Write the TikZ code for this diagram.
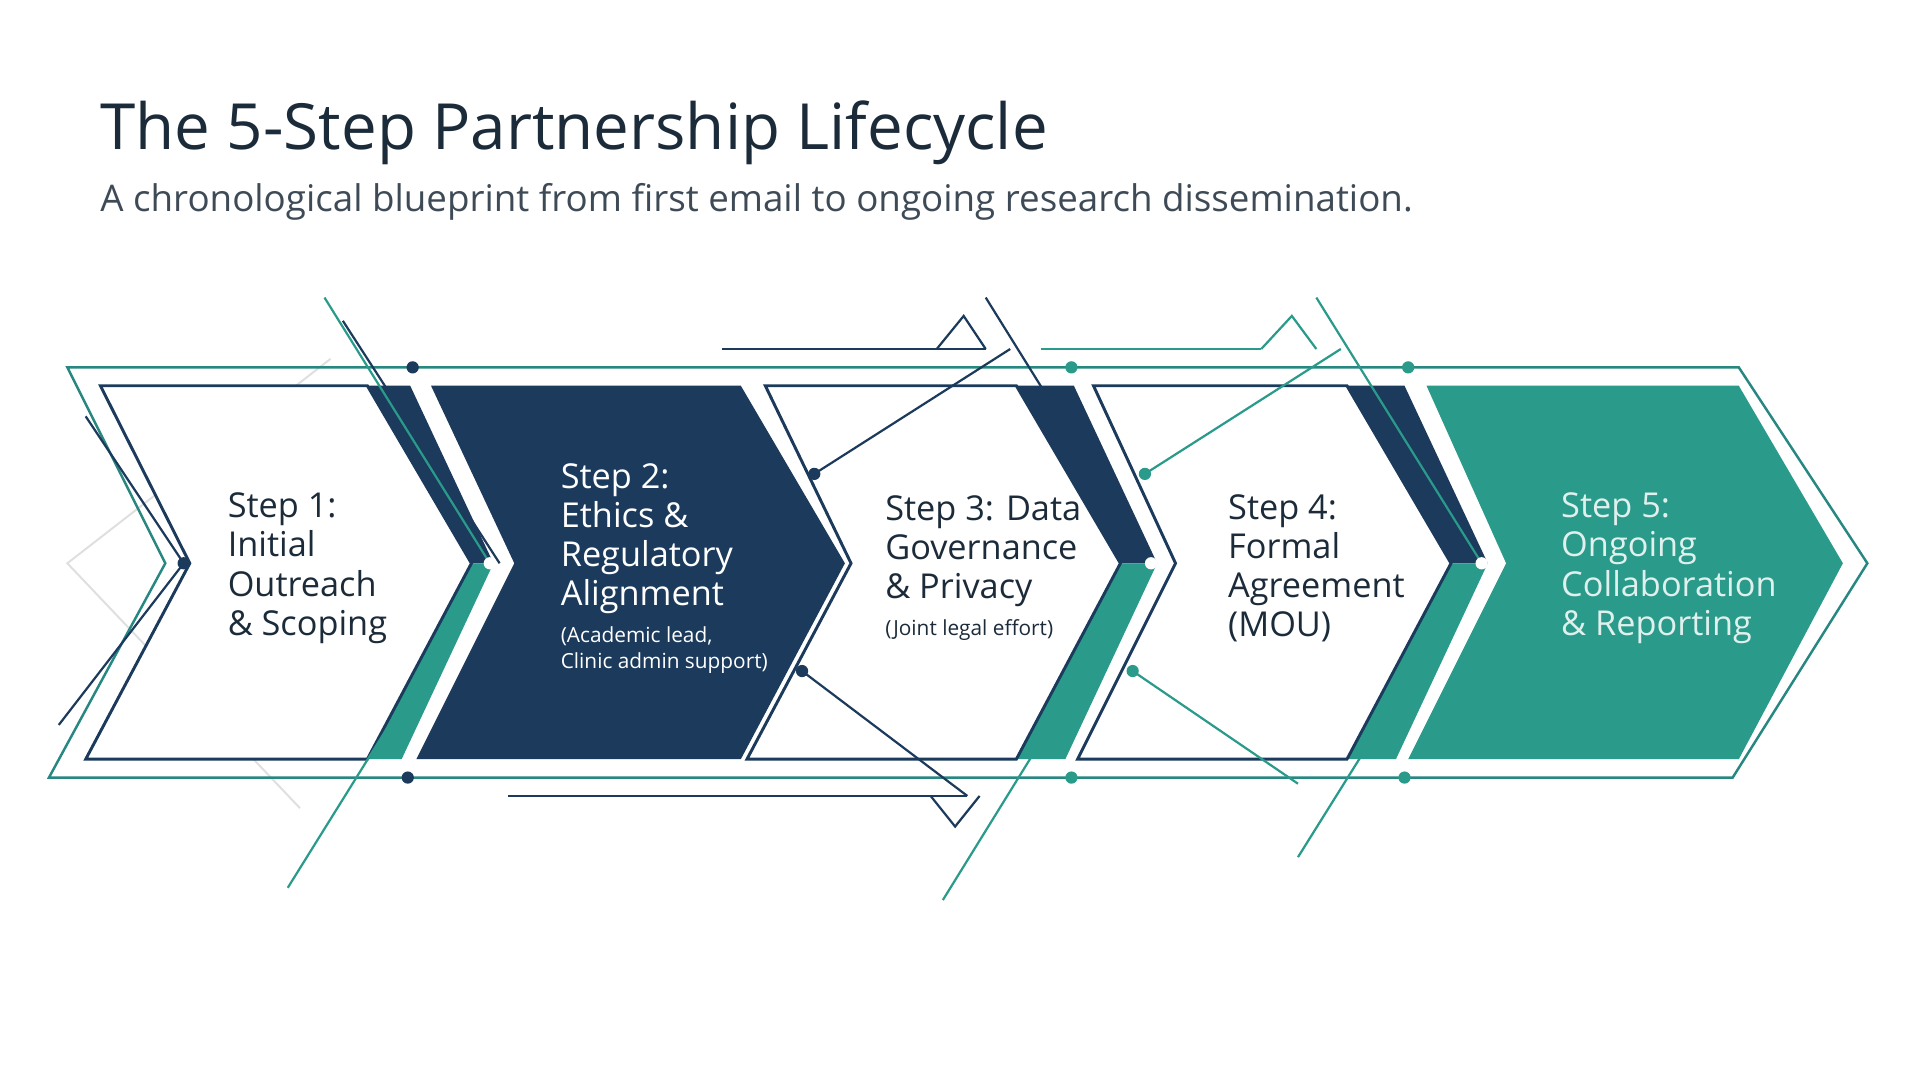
\documentclass[tikz,border=0pt]{standalone}
\usepackage{fontspec}
\setmainfont{Open Sans}
\usetikzlibrary{positioning}
\definecolor{navy}{HTML}{1B3A5C}
\definecolor{teal}{HTML}{2A9A8A}
\definecolor{ink}{HTML}{1C2B3A}
\begin{document}
\begin{tikzpicture}[x=0.5pt,y=-0.5pt,% one unit is one pixel of the layout
		every node/.style={inner sep=0pt,outer sep=0pt},
		steptext/.style={anchor=west,align=left,font=\fontsize{14}{16}\selectfont,text=ink},
		note/.style={font=\fontsize{8.5}{10.5}\selectfont},
		frame/.style={draw=navy,line width=1.2pt},
		wire/.style={line width=0.9pt},
		dot/.style={circle,minimum size=5pt}
	]
	\useasboundingbox[fill=white] (0,0) rectangle (1568,875);
	% title
	\node[anchor=base west,font=\fontsize{26}{30}\selectfont,text=ink](T1) at (82,122) {The 5-Step Partnership Lifecycle};
	\node[anchor=base west,font=\fontsize{15}{18}\selectfont,text=ink!85](T2) at (82,173) {A chronological blueprint from first email to ongoing research dissemination.};
	% faint diamond
	\draw[gray!25,line width=0.8pt] (270,293) -- (55,460) -- (245,660);
	% outer frame
	\draw[teal!80!navy,line width=1pt] (55,300) -- (1420,300) -- (1525,460) -- (1415,635) -- (40,635) -- (135,460) -- cycle;
	\draw[navy,wire] (70,340) -- (150,460) -- (48,592);
	% colour strips
	\foreach \a in {288,830,1100}{
		\fill[navy] (\a,315) -- (\a+47,315) -- (\a+115,460) -- (\a+70,460) -- cycle;
		\fill[teal] (\a+70,460) -- (\a+115,460) -- (\a+40,620) -- (\a-8,620) -- cycle;
	}
	% chevrons
	\draw[frame,fill=white] (82,315) -- (300,315) -- (385,460) -- (300,620) -- (70,620) -- (155,460) -- cycle;
	\fill[navy] (352,315) -- (605,315) -- (690,460) -- (605,620) -- (340,620) -- (420,460) -- cycle;
	\draw[frame,fill=white] (625,315) -- (830,315) -- (915,460) -- (830,620) -- (610,620) -- (695,460) -- cycle;
	\draw[frame,fill=white] (893,315) -- (1100,315) -- (1185,460) -- (1100,620) -- (880,620) -- (960,460) -- cycle;
	\fill[teal] (1165,315) -- (1420,315) -- (1505,460) -- (1420,620) -- (1150,620) -- (1230,460) -- cycle;
	% circuit lines
	\draw[teal,wire] (265,243) -- (400,460) -- (235,725);
	\draw[navy,wire] (280,262) -- (408,460);
	\draw[navy,wire] (590,285) -- (805,285);
	\draw[navy,wire] (765,285) -- (787,258) -- (805,285);
	\draw[navy,wire] (805,243) -- (940,460);
	\draw[teal,wire] (940,460) -- (770,735);
	\draw[navy,wire] (665,387) -- (825,285);
	\draw[navy,wire] (655,548) -- (790,650);
	\draw[navy,wire] (415,650) -- (790,650);
	\draw[navy,wire] (760,650) -- (780,675) -- (800,650);
	\draw[teal,wire] (850,285) -- (1030,285);
	\draw[teal,wire] (1030,285) -- (1055,258) -- (1075,285);
	\draw[teal,wire] (1075,243) -- (1210,460) -- (1060,700);
	\draw[teal,wire] (935,387) -- (1095,285);
	\draw[teal,wire] (925,548) -- (1060,640);
	% dots
	\foreach \x/\y/\c/\n in {337/300/navy/d1,333/635/navy/d2,875/300/teal/d3,875/635/teal/d4,1150/300/teal/d5,1147/635/teal/d6,150/460/navy/d7,665/387/navy/d8,655/548/navy/d9,935/387/teal/d10,925/548/teal/d11}
		\node[dot,fill=\c](\n) at (\x,\y) {};
	\foreach \x/\n in {400/w1,940/w2,1210/w3}
		\node[dot,fill=white](\n) at (\x,460) {};
	% step texts
	\node[steptext](S1) at (186,464) {Step 1:\\Initial\\Outreach\\\& Scoping};
	\node[steptext,text=white](S2) at (458,440) {Step 2:\\Ethics \&\\Regulatory\\Alignment};
	\node[steptext,text=white,note,anchor=north west](N2) at (458,512) {(Academic lead,\\Clinic admin support)};
	\node[steptext](S3) at (723,450) {Step 3: Data\\Governance\\\& Privacy};
	\node[steptext,note,anchor=north west](N3) at (723,506) {(Joint legal effort)};
	\node[steptext](S4) at (1003,464) {Step 4:\\Formal\\Agreement\\(MOU)};
	\node[steptext,text=white!85!teal](S5) at (1275,464) {Step 5:\\Ongoing\\Collaboration\\\& Reporting};
\end{tikzpicture}
\end{document}
